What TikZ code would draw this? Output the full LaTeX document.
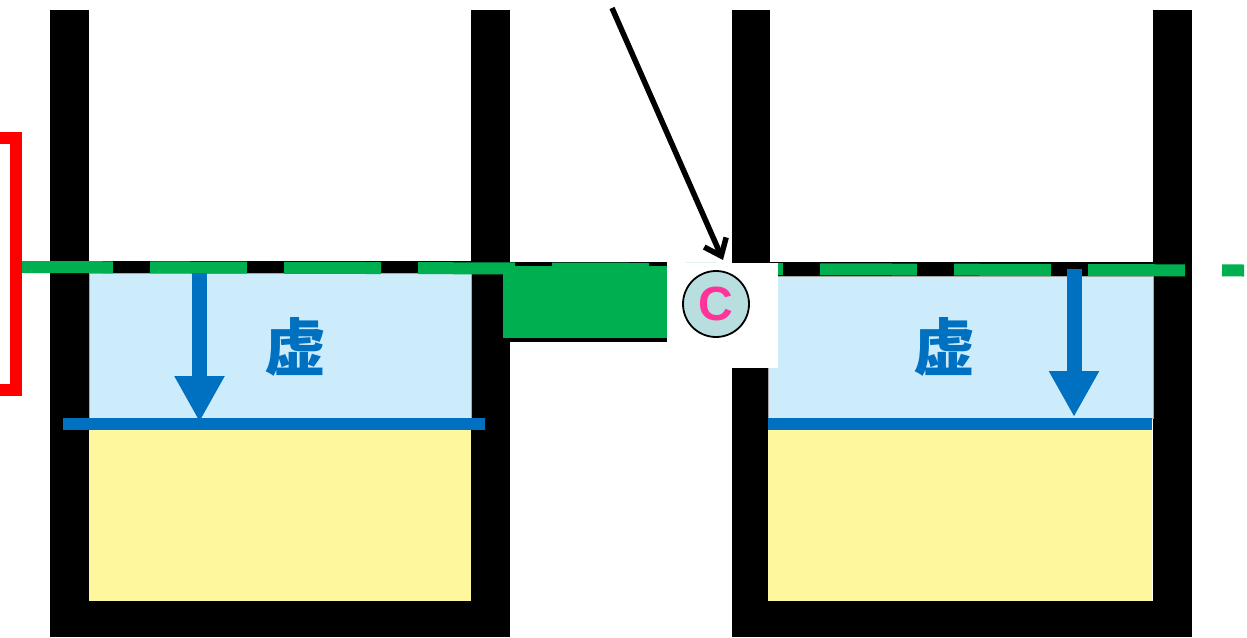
\documentclass[tikz,border=0pt]{standalone}
\usepackage{fontspec}
\newfontfamily\cjk{Noto Sans CJK SC}
\newfontfamily\lsans{Liberation Sans}
\usetikzlibrary{arrows.meta}
\definecolor{wgreen}{RGB}{0,176,80}
\definecolor{lblue}{RGB}{204,236,252}
\definecolor{lyellow}{RGB}{255,247,157}
\definecolor{dblue}{RGB}{0,112,192}
\definecolor{cteal}{RGB}{184,222,224}
\definecolor{cpink}{RGB}{255,51,153}
\begin{document}
\begin{tikzpicture}[x=1pt,y=-1pt,
  wall/.style={fill=black},
  water/.style={fill=lblue,draw=gray!70,line width=0.6pt},
  sand/.style={fill=lyellow},
  level/.style={fill=dblue},
  downarrow/.style={draw=dblue,line width=15pt,-{Triangle[length=46pt,width=47pt]}},
  pointer/.style={draw=black,line width=5.5pt,-{Straight Barb[length=15pt,width=24pt]}},
  label/.style={text=dblue,font=\cjk\bfseries\fontsize{62}{70}\selectfont,inner sep=0pt}]
\useasboundingbox (0,0) rectangle (1247,637);
\fill[white] (0,0) rectangle (1247,637);
% left container
\fill[wall] (50,10) rectangle (89,637);
\fill[wall] (471,10) rectangle (510,637);
\fill[wall] (50,601) rectangle (510,637);
\filldraw[water] (89,273) rectangle (471,418);
\fill[sand] (89,430) rectangle (471,601);
\fill[level] (63,418) rectangle (485,430);
\fill[wall] (50,261) rectangle (510,273);
% right container
\fill[wall] (732,10) rectangle (770,637);
\fill[wall] (1153,10) rectangle (1192,637);
\fill[wall] (732,601) rectangle (1192,637);
\filldraw[water] (768,276) rectangle (1153,418);
\fill[sand] (768,430) rectangle (1152,601);
\fill[level] (768,418) rectangle (1152,430);
\fill[wall] (732,262) rectangle (1192,276);
% green channel
\fill[black] (503,262) rectangle (667,342);
\fill[wgreen] (503,266) rectangle (667,338);
% dashed water line
\draw[wgreen,line width=12pt,dash pattern=on 97pt off 37pt] (16,267) -- (1244,270.5);
% white patch with circle
\fill[white] (667,263) rectangle (778,368);
\node[circle,minimum size=66pt,inner sep=0pt,fill=cteal,draw=black,line width=1.8pt,
  text=cpink,font=\lsans\bfseries\fontsize{48}{52}\selectfont] (c) at (716,304) {C};
% red bracket
\draw[red,line width=12pt] (0,138) -- (15.5,138) -- (15.5,390) -- (0,390);
% blue arrows
\coordinate (la1) at (199.5,273);
\coordinate (la2) at (199.5,422);
\draw[downarrow] (la1) -- (la2);
\coordinate (ra1) at (1074,269);
\coordinate (ra2) at (1074,417);
\draw[downarrow] (ra1) -- (ra2);
% labels
\node[label] (t1) at (295,347) {虚};
\node[label] (t2) at (944,347) {虚};
% black pointer
\coordinate (p1) at (612,8);
\coordinate (p2) at (723,260);
\draw[pointer] (p1) -- (p2);
\end{tikzpicture}
\end{document}
